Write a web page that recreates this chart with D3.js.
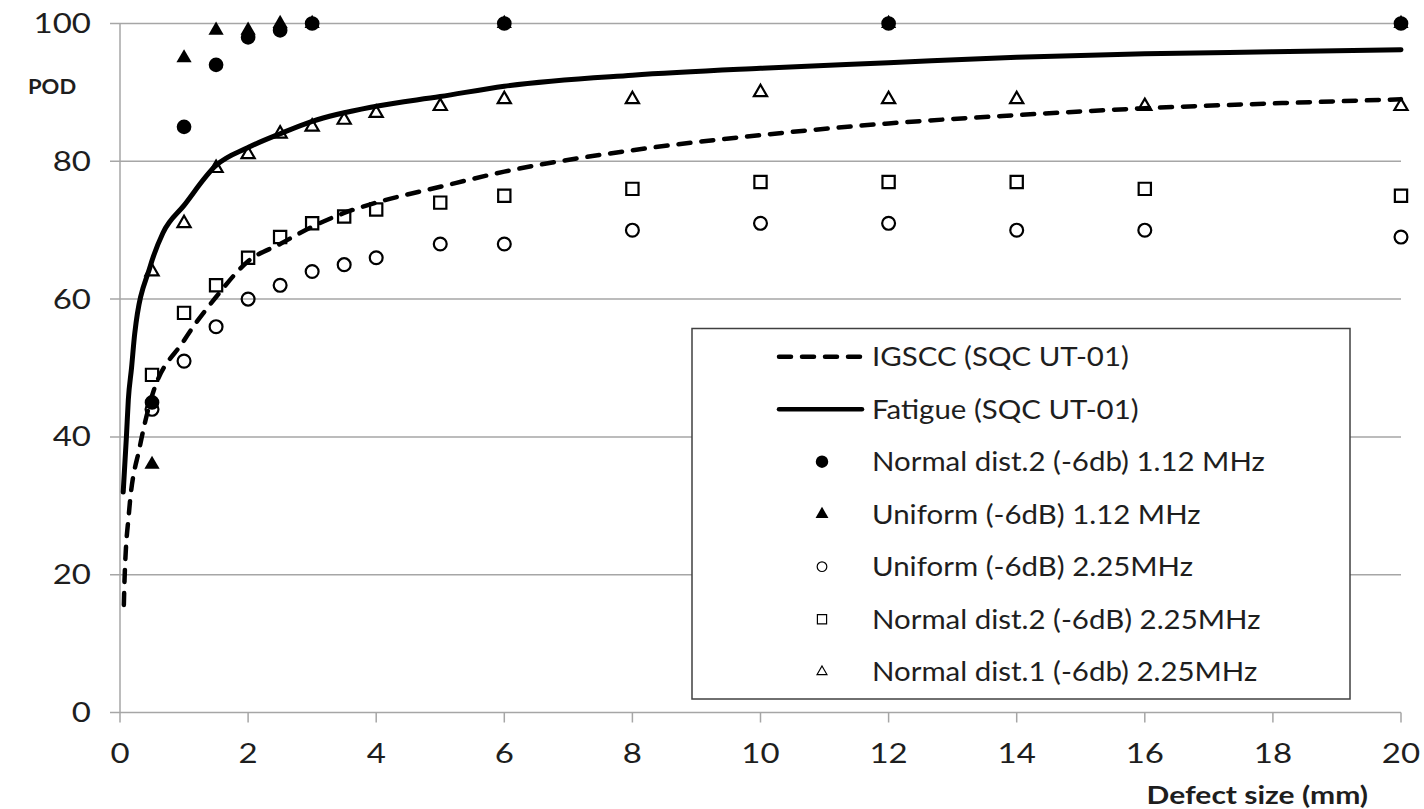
<!DOCTYPE html>
<html>
<head>
<meta charset="utf-8">
<script src="https://cdn.jsdelivr.net/npm/d3@7"></script>
<style>
  body { margin: 0; background: #fff; }
  svg { display: block; font-family: Lato, "Open Sans", sans-serif; }
</style>
</head>
<body>
<svg id="chart" width="1424" height="809"></svg>
<script>
// curve values
const igsccX = [0.06, 0.07, 0.14, 0.31, 0.47, 1, 1.5, 2, 2.5, 3, 3.5, 4, 5, 6, 8, 10, 12, 14, 16, 18, 20];
const igsccY = [15.6, 19, 29, 38.6, 45, 54, 60.3, 65.5, 68, 70.5, 72.5, 74, 76.3, 78.5, 81.6, 83.8, 85.5, 86.7, 87.7, 88.4, 89];

const fatigueX = [0.05, 0.1, 0.13, 0.18, 0.23, 0.47, 0.67, 1, 1.5, 2, 2.5, 3, 4, 5, 6, 8, 10, 12, 14, 16, 18, 20];
const fatigueY = [32, 40, 45.4, 50, 55, 64.7, 69.6, 73.6, 79.4, 82, 84, 85.8, 88, 89.4, 90.9, 92.5, 93.5, 94.3, 95.1, 95.6, 95.9, 96.2];

// measured points
const sizes1 = [0.5, 1, 1.5, 2, 2.5, 3, 6, 12, 20];
const normal2Low = [45, 85, 94, 98, 99, 100, 100, 100, 100];
const uniformLow = [36, 95, 99, 99, 100, 100, 100, 100, 100];

const sizes2 = [0.5, 1, 1.5, 2, 2.5, 3, 3.5, 4, 5, 6, 8, 10, 12, 14, 16, 20];
const uniformHigh = [44, 51, 56, 60, 62, 64, 65, 66, 68, 68, 70, 71, 71, 70, 70, 69];
const normal2High = [49, 58, 62, 66, 69, 71, 72, 73, 74, 75, 76, 77, 77, 77, 76, 75];
const normal1High = [64, 71, 79, 81, 84, 85, 86, 87, 88, 89, 89, 90, 89, 89, 88, 88];

const xTicks = [0, 2, 4, 6, 8, 10, 12, 14, 16, 18, 20];
const yTicks = [0, 20, 40, 60, 80, 100];

const legendLabels = [
  "IGSCC (SQC UT-01)",
  "Fatigue (SQC UT-01)",
  "Normal dist.2 (-6db) 1.12 MHz",
  "Uniform (-6dB) 1.12 MHz",
  "Uniform (-6dB) 2.25MHz",
  "Normal dist.2 (-6dB) 2.25MHz",
  "Normal dist.1 (-6db) 2.25MHz"
];

const svg = d3.select("#chart");
const grid = "#a6a6a6";
const ink = "#1e1e1e";

const x = d3.scaleLinear().domain([0, 20]).range([120, 1401]);
const y = d3.scaleLinear().domain([0, 100]).range([712.5, 23.5]);

// the picture is a bit wider than tall, so text gets a horizontal stretch
function label(g, tx, ty, txt, size, sx, anchor, bold) {
  return g.append("text")
    .attr("transform", `translate(${tx},${ty}) scale(${sx},1)`)
    .attr("text-anchor", anchor || "start")
    .attr("font-size", size)
    .attr("font-weight", bold ? "bold" : null)
    .attr("fill", ink)
    .text(txt);
}

// gridlines
svg.append("g")
  .selectAll("line")
  .data(yTicks)
  .join("line")
  .attr("x1", 110)
  .attr("x2", x(20))
  .attr("y1", d => y(d))
  .attr("y2", d => y(d))
  .attr("stroke", grid)
  .attr("stroke-width", 1.5);

// y axis line
svg.append("line")
  .attr("x1", x(0)).attr("x2", x(0))
  .attr("y1", y(0)).attr("y2", y(100))
  .attr("stroke", grid).attr("stroke-width", 1.5);

// x ticks
svg.append("g")
  .selectAll("line")
  .data(xTicks)
  .join("line")
  .attr("x1", d => x(d)).attr("x2", d => x(d))
  .attr("y1", y(0)).attr("y2", y(0) + 10)
  .attr("stroke", grid).attr("stroke-width", 1.5);

const tickG = svg.append("g");
for (let t of xTicks) label(tickG, x(t), 763, t, 27.5, 1.2, "middle");
for (let t of yTicks) label(tickG, 91, y(t) + 9.5, t, 27.5, 1.2, "end");

label(svg, 28, 94, "POD", 20, 1.1, "start", true);
label(svg, 1368, 804, "Defect size (mm)", 25, 1.2, "end", true);

// curves
const line = d3.line()
  .x(d => x(d[0]))
  .y(d => y(d[1]))
  .curve(d3.curveMonotoneX);

svg.append("path")
  .attr("d", line(d3.zip(igsccX, igsccY)))
  .attr("fill", "none")
  .attr("stroke", "#000")
  .attr("stroke-width", 4.5)
  .attr("stroke-linecap", "round")
  .attr("stroke-dasharray", "12 11");

svg.append("path")
  .attr("d", line(d3.zip(fatigueX, fatigueY)))
  .attr("fill", "none")
  .attr("stroke", "#000")
  .attr("stroke-width", 5)
  .attr("stroke-linecap", "round");

// markers
const sym = {
  circle: d3.symbol(d3.symbolCircle, 170),
  triangle: d3.symbol(d3.symbolTriangle, 100),
  square: d3.symbol(d3.symbolSquare, 150),
  hcircle: d3.symbol(d3.symbolCircle, 130),
  htriangle: d3.symbol(d3.symbolTriangle, 75)
};

const series = [
  {xs: sizes2, ys: uniformHigh, shape: sym.hcircle, filled: false},
  {xs: sizes2, ys: normal2High, shape: sym.square, filled: false},
  {xs: sizes2, ys: normal1High, shape: sym.htriangle, filled: false},
  {xs: sizes1, ys: uniformLow, shape: sym.triangle, filled: true},
  {xs: sizes1, ys: normal2Low, shape: sym.circle, filled: true}
];

for (let s of series) {
  svg.append("g")
    .selectAll("path")
    .data(d3.zip(s.xs, s.ys))
    .join("path")
    .attr("transform", d => `translate(${x(d[0])},${y(d[1])})`)
    .attr("d", s.shape())
    .attr("fill", s.filled ? "#000" : "none")
    .attr("stroke", s.filled ? "none" : "#000")
    .attr("stroke-width", 2.2);
}

// legend
const lg = svg.append("g");
lg.append("rect")
  .attr("x", 692).attr("y", 328.5)
  .attr("width", 658).attr("height", 370.5)
  .attr("fill", "#fff")
  .attr("stroke", "#404040")
  .attr("stroke-width", 1.5);

const rowY = i => 356.7 + i * 52.5;
const legendShapes = [null, null, sym.circle, sym.triangle, sym.hcircle, sym.square, sym.htriangle];
const legendFilled = [null, null, true, true, false, false, false];

legendLabels.forEach((txt, i) => {
  if (i < 2) {
    lg.append("line")
      .attr("x1", 779).attr("x2", 862)
      .attr("y1", rowY(i)).attr("y2", rowY(i))
      .attr("stroke", "#000")
      .attr("stroke-width", 4.5)
      .attr("stroke-linecap", "round")
      .attr("stroke-dasharray", i === 0 ? "12 11" : null);
  } else {
    lg.append("path")
      .attr("transform", `translate(822,${rowY(i)}) scale(${legendFilled[i] ? 0.85 : 0.75})`)
      .attr("d", legendShapes[i]())
      .attr("fill", legendFilled[i] ? "#000" : "none")
      .attr("stroke", legendFilled[i] ? "none" : "#000")
      .attr("stroke-width", 1.6);
  }
  label(lg, 872, rowY(i) + 9.5, txt, 27, 1.09, "start");
});
</script>
</body>
</html>
